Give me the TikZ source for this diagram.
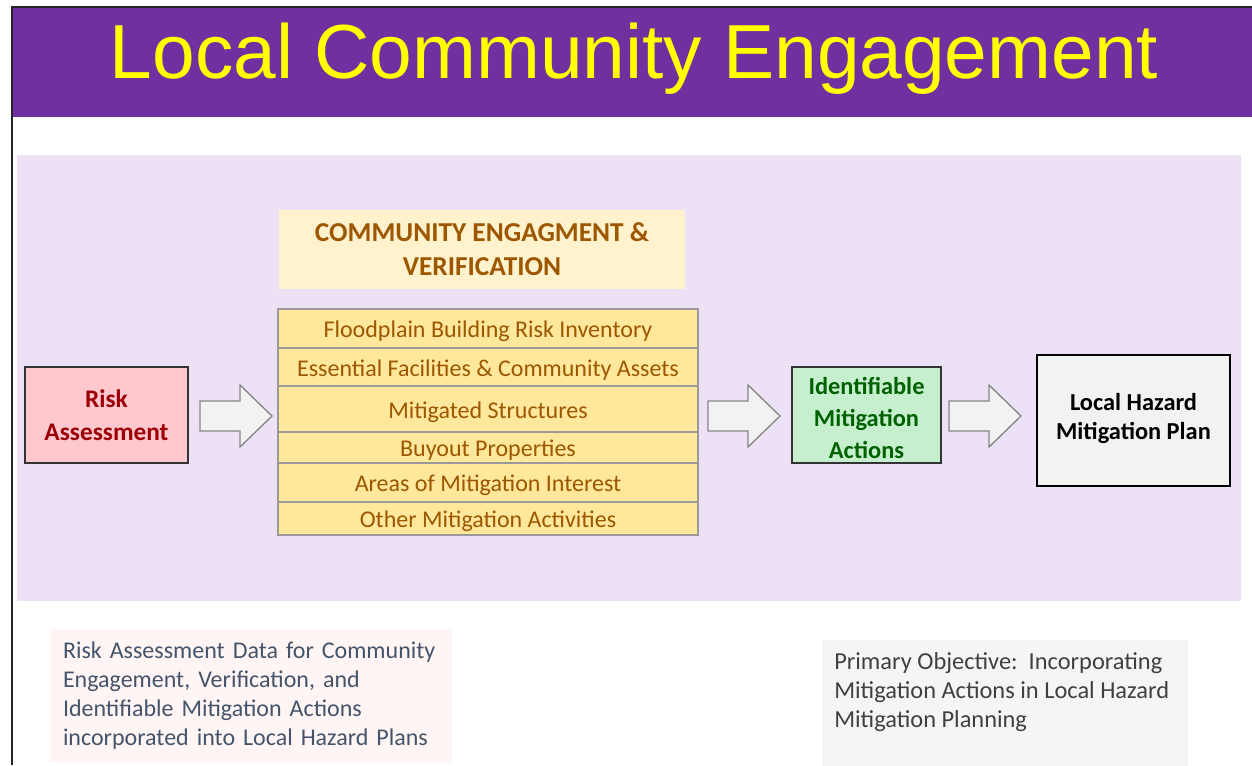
\documentclass[tikz,border=0pt]{standalone}
\usepackage{fontspec}
\setmainfont{Carlito}
\newfontfamily\titlefont{Liberation Sans}
\newcommand\pxu{0.75pt}
\definecolor{banner}{HTML}{7030A0}
\definecolor{titleyellow}{HTML}{FFFF00}
\definecolor{panel}{RGB}{237,226,245}
\definecolor{headfill}{HTML}{FFF2CC}
\definecolor{brownt}{HTML}{9C5700}
\definecolor{itemfill}{HTML}{FFE79C}
\definecolor{itemline}{HTML}{9A9A9A}
\definecolor{riskfill}{HTML}{FFC7CE}
\definecolor{riskt}{HTML}{9C0006}
\definecolor{goodfill}{HTML}{C6EFCE}
\definecolor{goodt}{HTML}{006100}
\definecolor{planfill}{HTML}{F2F2F2}
\definecolor{arrowfill}{HTML}{F2F2F2}
\definecolor{arrowline}{HTML}{858585}
\definecolor{notefill}{HTML}{FFF5F5}
\definecolor{notet}{HTML}{44546A}
\definecolor{objfill}{HTML}{F5F5F5}
\definecolor{objt}{HTML}{404040}
\tikzset{
  itemrow/.style={draw=itemline, line width=1pt, fill=itemfill, text=brownt,
    minimum width=420*\pxu, inner sep=0pt, text height=13.5pt, text depth=0pt,
    font=\fontsize{18}{21}\selectfont},
  stagebox/.style={line width=1pt, inner sep=0pt, align=center,
    font=\bfseries\fontsize{18}{24.5}\selectfont},
  blockarrow/.style={draw=arrowline, fill=arrowfill, line width=1pt, line join=miter},
  bodytext/.style={font=\fontsize{18.3}{21.75}\selectfont, align=left, inner sep=0pt}
}
\begin{document}
\begin{tikzpicture}[x=0.75pt,y=-0.75pt]
\useasboundingbox (0,0) rectangle (1252,765);
\fill[white] (0,0) rectangle (1252,765);
% banner
\fill[banner] (12,8) rectangle (1252,117);
\draw[black!85, line width=1.5pt] (11.5,765) -- (11.5,7) -- (1252,7);
\node[anchor=base, text=titleyellow, inner sep=0pt,
  font=\titlefont\fontsize{57.5}{60}\selectfont] (title) at (634,78) {Local Community Engagement};
% panel
\fill[panel] (17,155) rectangle (1241,601);
% header
\node[fill=headfill, minimum width=406*\pxu, minimum height=79*\pxu, inner sep=0pt,
  align=center, text=brownt, font=\bfseries\fontsize{20.5}{25.5}\selectfont]
  (head) at (482,249) {COMMUNITY ENGAGMENT \&\\VERIFICATION};
% item stack
\node[itemrow, minimum height=39*\pxu] (i1) at (488,328.5) {Floodplain Building Risk Inventory};
\node[itemrow, minimum height=38*\pxu] (i2) at (488,367) {Essential Facilities \& Community Assets};
\node[itemrow, minimum height=46*\pxu] (i3) at (488,409) {Mitigated Structures};
\node[itemrow, minimum height=31*\pxu] (i4) at (488,447.5) {Buyout Properties};
\node[itemrow, minimum height=39*\pxu] (i5) at (488,482.5) {Areas of Mitigation Interest};
\node[itemrow, minimum height=33*\pxu] (i6) at (488,518.5) {Other Mitigation Activities};
% stages
\node[stagebox, draw=black!80, fill=riskfill, text=riskt, minimum width=163*\pxu,
  minimum height=96*\pxu, font=\bfseries\fontsize{19}{24.5}\selectfont] (risk) at (106.5,415) {Risk\\Assessment};
\node[stagebox, draw=black!80, fill=goodfill, text=goodt, minimum width=149*\pxu,
  minimum height=96*\pxu, font=\bfseries\fontsize{18.3}{24}\selectfont] (ident) at (866.5,415) {};
\node[align=center, text=goodt, inner sep=0pt, font=\bfseries\fontsize{18.3}{24}\selectfont]
  (identtext) at (866.5,418) {Identifiable\\Mitigation\\Actions};
\node[stagebox, draw=black, fill=planfill, text=black, minimum width=193*\pxu,
  minimum height=131*\pxu, font=\bfseries\fontsize{18.3}{21.75}\selectfont] (plan) at (1133.5,420.5) {};
\node[align=center, text=black, inner sep=0pt, font=\bfseries\fontsize{18.3}{21.75}\selectfont]
  (plantext) at (1133.5,418.5) {Local Hazard\\Mitigation Plan};
% block arrows
\coordinate (a1) at (200,416);
\coordinate (a2) at (708,416);
\coordinate (a3) at (949,416);
\foreach \a in {a1,a2,a3}
  \draw[blockarrow] (\a) ++(0,-15) -- ++(40,0) -- ++(0,-16) -- ++(32,31)
    -- ++(-32,31) -- ++(0,-16) -- ++(-40,0) -- cycle;
% notes
\node[fill=notefill, text=notet, bodytext, font=\fontsize{18}{21.75}\selectfont,
  text width=376*\pxu, inner xsep=13*\pxu,
  minimum height=133*\pxu] (note) at (251,695.5)
  {Risk Assessment Data for Community\\Engagement, Verification, and\\Identifiable Mitigation Actions\\incorporated into Local Hazard Plans};
\node[fill=objfill, minimum width=366*\pxu, minimum height=126*\pxu, inner sep=0pt] (objbox) at (1005,703) {};
\node[bodytext, text=objt, anchor=north west] (objtext) at (834,652)
  {Primary Objective:\ \ Incorporating\\Mitigation Actions in Local Hazard\\Mitigation Planning};
\end{tikzpicture}
\end{document}
